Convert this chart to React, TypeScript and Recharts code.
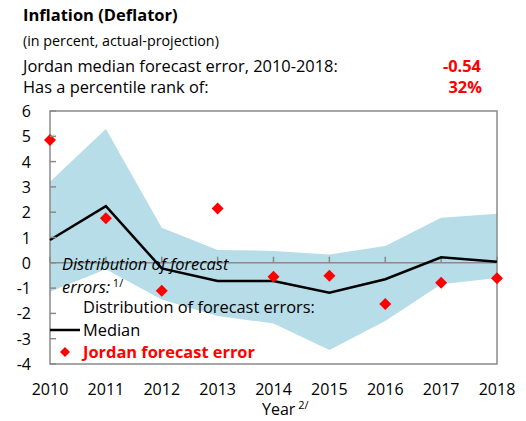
import { Area, ComposedChart, Line, ReferenceArea, ReferenceLine, Scatter, XAxis, YAxis } from 'recharts';

const years = ['2010', '2011', '2012', '2013', '2014', '2015', '2016', '2017', '2018'];
const bandLow = [-1.14, -0.25, -1.45, -2.1, -2.4, -3.45, -2.3, -0.85, -0.6];
const bandHigh = [3.2, 5.29, 1.39, 0.51, 0.47, 0.33, 0.66, 1.78, 1.94];
const median = [0.9, 2.24, -0.22, -0.72, -0.72, -1.18, -0.65, 0.22, 0.04];
const jordan = [4.85, 1.76, -1.1, 2.15, -0.55, -0.51, -1.63, -0.79, -0.61];
const yTicks = [-4, -3, -2, -1, 0, 1, 2, 3, 4, 5, 6];

const FONT = '"Open Sans", "Noto Sans", sans-serif';
const GRAY = '#8a8a8a';
const BAND = '#b7dde8';
const RED = '#ff0000';

const data = years.map((year, i) => ({
  year,
  band: [bandLow[i], bandHigh[i]],
  median: median[i],
  jordan: jordan[i],
}));

function YTick({ x, y, payload }: any) {
  return (
    <g>
      <line x1={x + 19} x2={x + 25} y1={y} y2={y} stroke={GRAY} strokeWidth={1.5} />
      <text x={x} y={y} textAnchor="end" dominantBaseline="central" fontSize={16} fill="#000" fontFamily={FONT}>
        {payload.value}
      </text>
    </g>
  );
}

function Diamond({ cx, cy }: any) {
  const r = 6;
  return <polygon points={`${cx},${cy - r} ${cx + r},${cy} ${cx},${cy + r} ${cx - r},${cy}`} fill={RED} />;
}

export default function App() {
  return (
    <div style={{ position: 'absolute', left: 0, top: 0, width: 526, height: 421, background: '#fff' }}>
      <ComposedChart width={526} height={421} data={data} margin={{ top: 111, right: 29, left: 0, bottom: 0 }}>
        <XAxis
          dataKey="year"
          scale="point"
          interval={0}
          height={57}
          axisLine={false}
          tickLine={false}
          tickSize={0}
          tickMargin={20}
          tick={{ fontSize: 16, fill: '#000', fontFamily: FONT }}
        />
        <YAxis
          domain={[-4, 6]}
          ticks={yTicks}
          interval={0}
          width={50}
          axisLine={false}
          tickLine={false}
          tickSize={0}
          tickMargin={19}
          tick={<YTick />}
        />
        <Area dataKey="band" stroke="none" fill={BAND} fillOpacity={1} isAnimationActive={false} />
        <ReferenceLine y={0} stroke={GRAY} strokeWidth={1.5} />
        {years.map((yr) => (
          <ReferenceLine
            key={yr}
            segment={[
              { x: yr, y: 0 },
              { x: yr, y: 0.24 },
            ]}
            stroke={GRAY}
            strokeWidth={1.5}
          />
        ))}
        <ReferenceArea x1="2010" x2="2018" y1={-4} y2={6} fill="none" stroke={GRAY} strokeWidth={1.5} />
        <Line dataKey="median" stroke="#000" strokeWidth={2.5} dot={false} isAnimationActive={false} />
        <Scatter dataKey="jordan" shape={<Diamond />} isAnimationActive={false} />
      </ComposedChart>
      <svg width={526} height={421} style={{ position: 'absolute', left: 0, top: 0, pointerEvents: 'none' }} fontFamily={FONT}>
        <text x={23} y={21} fontSize={16.5} fontWeight="bold" fill="#000">Inflation (Deflator)</text>
        <text x={23} y={46} fontSize={14.3} fill="#000">(in percent, actual-projection)</text>
        <text x={23} y={72} fontSize={16.4} fill="#000">Jordan median forecast error, 2010-2018:</text>
        <text x={481} y={72} fontSize={16.4} fontWeight="bold" fill={RED} textAnchor="end">-0.54</text>
        <text x={23} y={93} fontSize={16.4} fill="#000">Has a percentile rank of:</text>
        <text x={482} y={93} fontSize={16.4} fontWeight="bold" fill={RED} textAnchor="end">32%</text>

        <text x={62} y={270} fontSize={16.4} fontStyle="italic" fill="#000">Distribution of forecast</text>
        <text x={62} y={293} fontSize={16.4} fontStyle="italic" fill="#000">
          errors:<tspan fontSize={11} dy={-6} fontStyle="normal"> 1/</tspan>
        </text>
        <text x={83} y={313} fontSize={16.4} fill="#000">Distribution of forecast errors:</text>
        <line x1={50} x2={80} y1={330} y2={330} stroke="#000" strokeWidth={2.5} />
        <text x={83} y={336} fontSize={16.4} fill="#000">Median</text>
        <polygon points="65,347 70,352 65,357 60,352" fill={RED} />
        <text x={83} y={358} fontSize={16.4} fontWeight="bold" fill={RED}>Jordan forecast error</text>

        <text x={262} y={415} fontSize={16} fill="#000">
          Year<tspan fontSize={11} dy={-6}> 2/</tspan>
        </text>
      </svg>
    </div>
  );
}
